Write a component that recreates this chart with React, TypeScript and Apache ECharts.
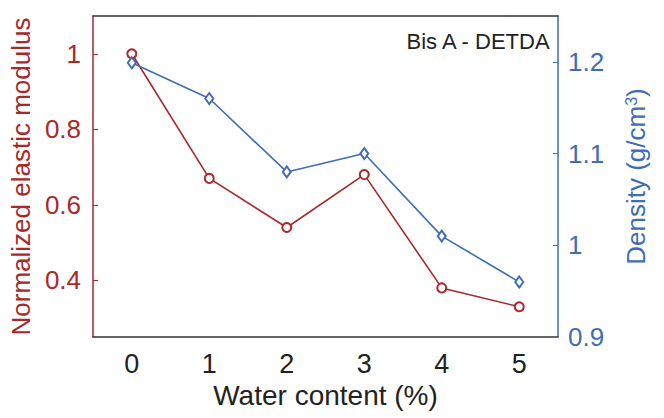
import React, { useEffect, useRef } from "react";
import * as echarts from "echarts";

const waterContent = ["0", "1", "2", "3", "4", "5"];
const elasticModulus = [1.0, 0.67, 0.54, 0.68, 0.38, 0.33];
const density = [1.199, 1.16, 1.08, 1.1, 1.01, 0.96];
const leftTicks = [0.4, 0.6, 0.8, 1];
const rightTicks = [0.9, 1, 1.1, 1.2];

const RED = "#A8282B";
const BLUE = "#3F6DB4";
const FONT = "'Liberation Sans', Arial, Helvetica, sans-serif";

export default function App() {
  const ref = useRef<HTMLDivElement>(null);
  useEffect(() => {
    if (!ref.current) return;
    const chart = echarts.init(ref.current, null, { renderer: "svg" });
    chart.setOption({
      animation: false,
      backgroundColor: "#ffffff",
      textStyle: { fontFamily: FONT },
      grid: { left: 92, right: 106, top: 16, bottom: 81, containLabel: false },
      graphic: [
        {
          type: "text",
          right: 112,
          top: 30,
          style: { text: "Bis A - DETDA", fontSize: 22, fill: "#222", fontFamily: FONT },
        },
      ],
      xAxis: [
        {
          type: "category",
          data: waterContent,
          boundaryGap: true,
          position: "bottom",
          name: "Water content (%)",
          nameLocation: "middle",
          nameGap: 44,
          nameTextStyle: { fontSize: 28, color: "#222", fontFamily: FONT },
          axisLine: { lineStyle: { color: "#333", width: 1.5 } },
          axisTick: { inside: true, alignWithLabel: true, length: 5, lineStyle: { color: "#333" } },
          axisLabel: { fontSize: 27, color: "#222", margin: 13, fontFamily: FONT },
          splitLine: { show: false },
        },
        {
          type: "category",
          data: waterContent,
          boundaryGap: true,
          position: "top",
          axisLine: { lineStyle: { color: "#333", width: 1.5 } },
          axisTick: { inside: true, alignWithLabel: true, length: 5, lineStyle: { color: "#333" } },
          axisLabel: { show: false },
          splitLine: { show: false },
        },
      ],
      yAxis: [
        {
          type: "value",
          position: "left",
          min: 0.25,
          max: 1.1,
          name: "Normalized elastic modulus",
          nameLocation: "middle",
          nameGap: 55,
          nameTextStyle: { fontSize: 26, color: RED, fontFamily: FONT },
          axisLine: { show: true, lineStyle: { color: RED, width: 1.5 } },
          axisTick: { show: true, inside: true, length: 5, customValues: leftTicks, lineStyle: { color: RED } },
          axisLabel: { fontSize: 26, color: RED, margin: 12, customValues: leftTicks, fontFamily: FONT },
          splitLine: { show: false },
        },
        {
          type: "value",
          position: "right",
          min: 0.9,
          max: 1.25,
          name: "Density (g/cm{sup|3})",
          nameLocation: "middle",
          nameGap: 65,
          nameTextStyle: {
            fontSize: 26,
            color: BLUE,
            fontFamily: FONT,
            rich: { sup: { fontSize: 16, color: BLUE, verticalAlign: "top", fontFamily: FONT } },
          },
          axisLine: { show: true, lineStyle: { color: BLUE, width: 1.5 } },
          axisTick: { show: true, inside: true, length: 5, customValues: rightTicks, lineStyle: { color: BLUE } },
          axisLabel: { fontSize: 26, color: BLUE, margin: 10, customValues: rightTicks, fontFamily: FONT },
          splitLine: { show: false },
        },
      ],
      series: [
        {
          type: "line",
          name: "Normalized elastic modulus",
          data: elasticModulus,
          xAxisIndex: 0,
          yAxisIndex: 0,
          symbol: "emptyCircle",
          symbolSize: 9,
          lineStyle: { color: RED, width: 1.6 },
          itemStyle: { color: RED, borderWidth: 1.6 },
        },
        {
          type: "line",
          name: "Density",
          data: density,
          xAxisIndex: 0,
          yAxisIndex: 1,
          symbol: "emptyDiamond",
          symbolSize: [8, 11],
          lineStyle: { color: BLUE, width: 1.6 },
          itemStyle: { color: BLUE, borderWidth: 1.6 },
        },
      ],
    });
    return () => chart.dispose();
  }, []);
  return (
    <div
      ref={ref}
      style={{ position: "absolute", left: 0, top: 0, width: 664, height: 418 }}
    />
  );
}
